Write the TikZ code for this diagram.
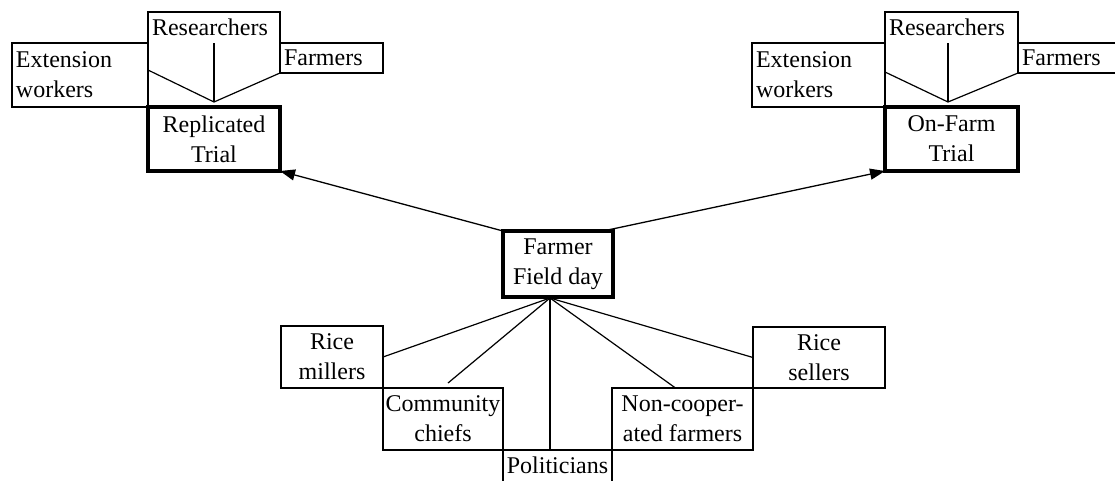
\documentclass[tikz,border=0pt]{standalone}
\usepackage{fontspec}
\setmainfont{Liberation Serif}
\usetikzlibrary{arrows.meta,calc}
\begin{document}
\begin{tikzpicture}[x=1pt,y=-1pt,
  every node/.style={font=\fontsize{24}{30}\selectfont, inner sep=0pt, outer sep=0pt},
  box/.style={draw, line width=1.8pt, align=center},
  trial/.style={draw, line width=4pt, align=center},
  edges/.style={line width=1.8pt},
  link/.style={line width=1.2pt},
  arr/.style={line width=1.3pt, -{Triangle[length=15pt,width=11pt]}},
  sz/.style 2 args={minimum width=#1pt, minimum height=#2pt},
  lbox/.style={text width=#1pt, align=left, inner xsep=4pt}
]
\useasboundingbox (0,0) rectangle (1115,480);

% ---- top-left cluster
\node[trial, sz={132}{64}] (rt) at (214,139) {Replicated\\Trial};
\node[box, sz={136}{64}, lbox=128] (ext1) at (80,75) {Extension\\workers};
\node[sz={132}{31}, lbox=124] (res1) at (214,27.5) {Researchers};
\node[box, sz={103}{30}, lbox=95] (far1) at (331.5,58) {Farmers};
\draw[edges] (res1.south west) -- (res1.north west) -- (res1.north east) -- (res1.south east);
\coordinate (rthub) at (214,102);
\draw[link] (res1.south) -- (rthub);
\draw[link] ([yshift=5pt]ext1.east) -- (rthub);
\draw[link] (far1.south west) -- (rthub);

% ---- top-right cluster
\node[trial, sz={133}{64}] (ot) at (951.5,139) {On-Farm\\Trial};
\node[box, sz={133}{64}, lbox=125] (ext2) at (818.5,75) {Extension\\workers};
\node[sz={133}{31}, lbox=125] (res2) at (951.5,27.5) {Researchers};
\node[sz={102}{30}, lbox=94] (far2) at (1069,58) {Farmers};
\draw[edges] (res2.south west) -- (res2.north west) -- (res2.north east) -- (res2.south east);
\draw[edges] (far2.north east) -- (far2.north west) -- (far2.south west) -- (far2.south east);
\coordinate (othub) at (948,102);
\draw[link] (othub |- res2.south) -- (othub);
\draw[link] ([yshift=3pt]ext2.east) -- (othub);
\draw[link] (far2.south west) -- (othub);

% ---- centre
\node[trial, sz={110}{66}] (ffd) at (558,264) {Farmer\\Field day};
\draw[arr] (ffd.north west) -- (rt.south east);
\draw[arr] ([xshift=-10pt]ffd.north east) -- (ot.south west);

% ---- bottom cluster
\node[box, sz={102}{62}] (rm) at (332,357) {Rice\\millers};
\node[box, sz={120}{62}] (cc) at (443,419) {Community\\chiefs};
\node[sz={109}{30}] (pol) at (557.5,465) {Politicians};
\draw[edges] ([yshift=-12pt]pol.south west) -- (pol.north west) -- (pol.north east) -- ([yshift=-12pt]pol.south east);
\node[box, sz={141}{62}] (ncf) at (682.5,419) {Non-cooper-\\ated farmers};
\node[box, sz={132}{61}] (rs) at (819,357.5) {Rice\\sellers};

\coordinate (hub) at (550,298);
\draw[link] (hub) -- (rm.east);
\draw[link] (hub) -- ([xshift=5pt,yshift=5pt]cc.north);
\draw[link] (hub) -- (hub |- pol.north);
\draw[link] (hub) -- ([xshift=-7pt]ncf.north);
\draw[link] (hub) -- (rs.west);
\end{tikzpicture}
\end{document}
